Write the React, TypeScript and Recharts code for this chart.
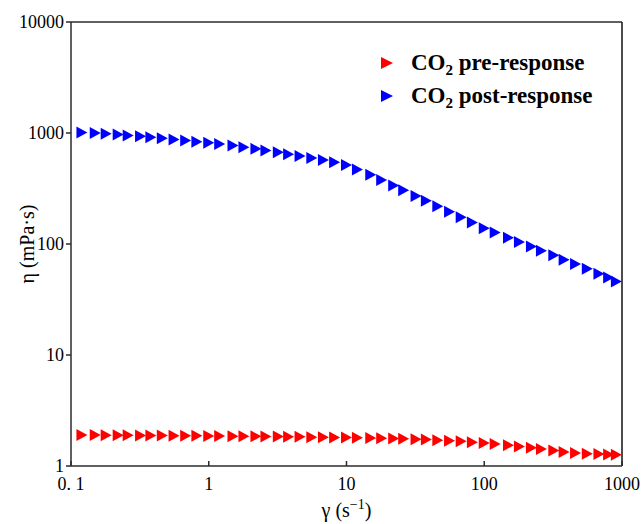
import React from 'react';
import { ScatterChart, Scatter, XAxis, YAxis, Legend, ReferenceLine } from 'recharts';

// shear rate (1/s)
const shearRate = [
  0.12, 0.15, 0.18, 0.22, 0.26, 0.32, 0.38, 0.46, 0.56, 0.68, 0.82, 1.0,
  1.2, 1.5, 1.8, 2.2, 2.6, 3.2, 3.8, 4.6, 5.6, 6.8, 8.2, 10,
  12, 15, 18, 22, 26, 32, 38, 46, 56, 68, 82, 100,
  120, 150, 180, 220, 260, 320, 380, 460, 560, 680, 800, 910,
];

// viscosity (mPa·s)
const preResponse = [
  1.9, 1.9, 1.89, 1.89, 1.89, 1.88, 1.88, 1.88, 1.87, 1.87, 1.87, 1.86,
  1.86, 1.85, 1.85, 1.85, 1.84, 1.84, 1.83, 1.83, 1.82, 1.82, 1.81, 1.81,
  1.8, 1.79, 1.78, 1.77, 1.76, 1.74, 1.73, 1.71, 1.69, 1.67, 1.64, 1.61,
  1.58, 1.54, 1.5, 1.46, 1.42, 1.38, 1.34, 1.31, 1.29, 1.28, 1.27, 1.26,
];

const postResponse = [
  1010, 1000, 985, 970, 950, 935, 915, 895, 875, 855, 835, 815,
  795, 770, 745, 720, 695, 670, 645, 620, 595, 570, 545, 515,
  470, 420, 378, 337, 305, 270, 245, 219, 195, 174, 156, 139,
  127, 114, 104, 95, 87, 79, 72, 66, 60, 54, 50, 46,
];

const xTicks = [0.1, 1, 10, 100, 1000];
const yTicks = [1, 10, 100, 1000, 10000];

const seriesNames = ['pre-response', 'post-response'];
const seriesColors = ['#ff0000', '#0000ff'];

const preData = shearRate.map((x, i) => ({ x, y: preResponse[i] }));
const postData = shearRate.map((x, i) => ({ x, y: postResponse[i] }));

const FONT = "'Times New Roman', 'Liberation Serif', serif";
const AXIS = '#2b2b2b';

const Triangle = (color: string) => (props: any) => {
  const { cx, cy } = props;
  if (cx == null || cy == null) return null;
  return (
    <polygon
      points={`${cx - 5.5},${cy - 6} ${cx + 5.5},${cy} ${cx - 5.5},${cy + 6}`}
      fill={color}
    />
  );
};

const XLabel = (props: any) => {
  const { viewBox } = props;
  const cx = viewBox.x + viewBox.width / 2;
  return (
    <text x={cx} y={viewBox.y + 51} textAnchor="middle" fontFamily={FONT} fontSize={20} fill="#000">
      γ (s
      <tspan dy={-8} fontSize={14}>−1</tspan>
      <tspan dy={8}>)</tspan>
    </text>
  );
};

const YLabel = (props: any) => {
  const { viewBox } = props;
  const cy = viewBox.y + viewBox.height / 2;
  const x = 27;
  return (
    <text
      x={x}
      y={cy}
      dy="0.35em"
      transform={`rotate(-90, ${x}, ${cy})`}
      textAnchor="middle"
      fontFamily={FONT}
      fontSize={20}
      fill="#000"
    >
      η (mPa·s)
    </text>
  );
};

const LegendBox = () => (
  <div style={{ fontFamily: FONT, fontWeight: 'bold', fontSize: 23, color: '#000' }}>
    {seriesNames.map((name, i) => (
      <div key={name} style={{ display: 'flex', alignItems: 'center', height: 33 }}>
        <svg width={24} height={14} style={{ marginRight: 10 }}>
          <polygon points="4,1 16,7 4,13" fill={seriesColors[i]} />
        </svg>
        <span>
          CO<span style={{ fontSize: 15, position: 'relative', top: 5 }}>2</span> {name}
        </span>
      </div>
    ))}
  </div>
);

export default function App() {
  return (
    <div style={{ position: 'absolute', left: 0, top: 0, width: 641, height: 524, background: '#fff' }}>
      <ScatterChart width={641} height={524} margin={{ top: 22, right: 19, bottom: 0, left: 0 }}>
        <XAxis
          dataKey="x"
          type="number"
          scale="log"
          domain={[0.1, 1000]}
          allowDataOverflow
          ticks={xTicks}
          tickFormatter={(v: number) => (v === 0.1 ? '0. 1' : String(v))}
          height={58}
          tickSize={-5}
          tickMargin={16}
          stroke={AXIS}
          strokeWidth={1.5}
          tick={{ fill: '#000', fontSize: 18, fontFamily: FONT }}
          label={<XLabel />}
        />
        <YAxis
          dataKey="y"
          type="number"
          scale="log"
          domain={[1, 10000]}
          allowDataOverflow
          ticks={yTicks}
          width={71}
          tickSize={5}
          tickMargin={2}
          stroke={AXIS}
          strokeWidth={1.5}
          tick={{ fill: '#000', fontSize: 18, fontFamily: FONT }}
          label={<YLabel />}
        />
        <ReferenceLine y={10000} stroke={AXIS} strokeWidth={1.5} />
        <ReferenceLine x={1000} stroke="#111" strokeWidth={1.5} />
        <Legend
          layout="vertical"
          align="center"
          verticalAlign="middle"
          content={<LegendBox />}
          wrapperStyle={{ position: 'absolute', left: 377, top: 46, width: 'auto', height: 'auto' }}
        />
        <Scatter
          name="CO2 pre-response"
          data={preData}
          fill={seriesColors[0]}
          shape={Triangle(seriesColors[0])}
          isAnimationActive={false}
        />
        <Scatter
          name="CO2 post-response"
          data={postData}
          fill={seriesColors[1]}
          shape={Triangle(seriesColors[1])}
          isAnimationActive={false}
        />
      </ScatterChart>
    </div>
  );
}
